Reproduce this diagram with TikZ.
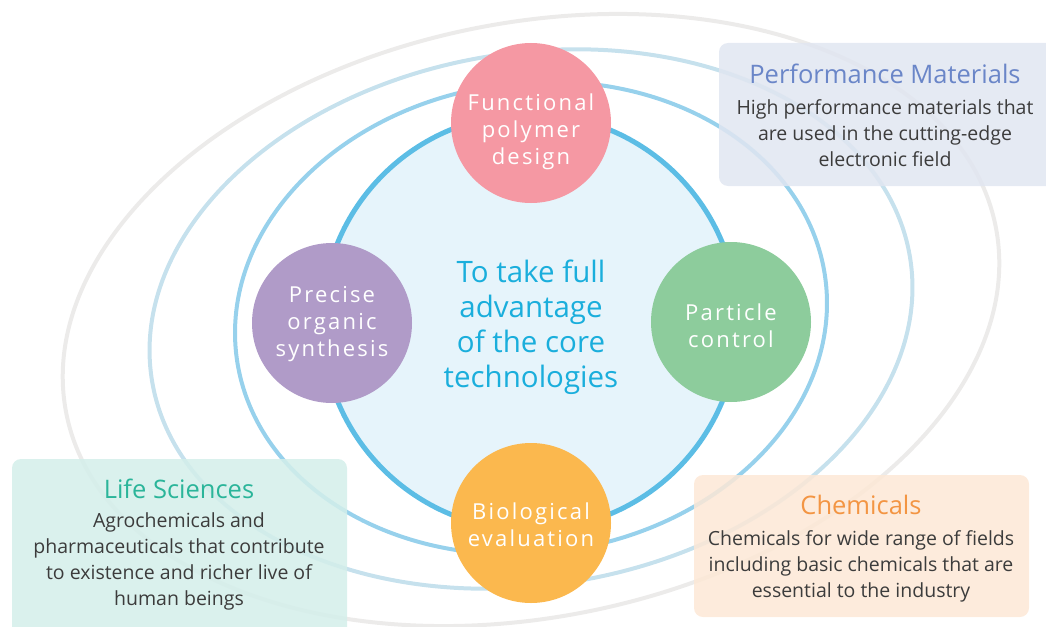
\documentclass[tikz,border=0pt]{standalone}
\usepackage{fontspec}
\setmainfont{Open Sans}
\usetikzlibrary{positioning}
\definecolor{ringgrey}{HTML}{ECEBEA}
\definecolor{ringpale}{HTML}{C6E1ED}
\definecolor{ringmid}{HTML}{97D1EC}
\definecolor{coreline}{HTML}{5CBDE5}
\definecolor{corefill}{HTML}{E6F4FB}
\definecolor{coretext}{HTML}{1AAEDC}
\definecolor{polypink}{HTML}{F598A3}
\definecolor{synpurple}{HTML}{B09BC8}
\definecolor{partgreen}{HTML}{8DCC9C}
\definecolor{bioorange}{HTML}{FBB84E}
\definecolor{perffill}{HTML}{E1E6F1}
\definecolor{perftitle}{HTML}{6A86C8}
\definecolor{lifefill}{HTML}{D4EFEA}
\definecolor{lifetitle}{HTML}{2BB59A}
\definecolor{chemfill}{HTML}{FDE8D6}
\definecolor{chemtitle}{HTML}{F39543}
\definecolor{bodygrey}{HTML}{3C3C3C}
\begin{document}
\begin{tikzpicture}[x=1pt, y=-1pt,
    ring/.style={line width=4pt},
    tech/.style={circle, fill=#1, minimum size=160pt, inner sep=0pt},
    techtext/.style={align=center, text=white,
        font=\fontsize{22}{27}\selectfont\addfontfeature{LetterSpace=10}},
    field/.style={rounded corners=9pt, fill opacity=.85},
    fieldtitle/.style={font=\fontsize{25.5}{28}\selectfont},
    fieldtext/.style={align=center, text=bodygrey, font=\fontsize{19.5}{26}\selectfont}]
\useasboundingbox (0,0) rectangle (1046,626);

% rings
\draw[ring, ringgrey, rotate around={11.5:(531,320)}] (531,320) ellipse [x radius=474pt, y radius=297pt];
\draw[ring, ringpale, rotate around={9.2:(531,319)}] (531,319) ellipse [x radius=384pt, y radius=266pt];
\draw[ring, ringmid, rotate around={7.8:(531,318)}] (531,318) ellipse [x radius=297pt, y radius=235pt];
\draw[line width=5pt, coreline, fill=corefill] (530,322) circle [radius=208pt];

\node[text=coretext, align=center, font=\fontsize{29.5}{35}\selectfont] (core) at (531,327)
    {To take full\\advantage\\of the core\\technologies};

% core technologies
\foreach \name/\pos/\col/\dy/\txt in {
    poly/{(531,123)}/polypink/-9/{Functional\\polymer\\design},
    syn/{(332,323)}/synpurple/-1/{Precise\\organic\\synthesis},
    part/{(731,322)}/partgreen/-4/{Particle\\control},
    bio/{(531,523)}/bioorange/-2/{Biological\\evaluation}}
{
    \node[tech=\col] (\name) at \pos {};
    \node[techtext] (\name-txt) at ([yshift=\dy pt]\name) {\txt};
}

% business fields
\fill[field, perffill] (719,43) rectangle (1070,186);
\node[fieldtitle, text=perftitle] (perf) at (885,74) {Performance Materials};
\node[fieldtext] (perftxt) at (885,133)
    {High performance materials that\\are used in the cutting-edge\\electronic field};

\fill[field, lifefill] (12,459) rectangle (347,650);
\node[fieldtitle, text=lifetitle] (life) at (179,489) {Life Sciences};
\node[fieldtext] (lifetxt) at (179,561)
    {Agrochemicals and\\pharmaceuticals that contribute\\to existence and richer live of\\human beings};

\fill[field, chemfill] (694,475) rectangle (1029,617);
\node[fieldtitle, text=chemtitle] (chem) at (861,505) {Chemicals};
\node[fieldtext] (chemtxt) at (861,566)
    {Chemicals for wide range of fields\\including basic chemicals that are\\essential to the industry};
\end{tikzpicture}
\end{document}
